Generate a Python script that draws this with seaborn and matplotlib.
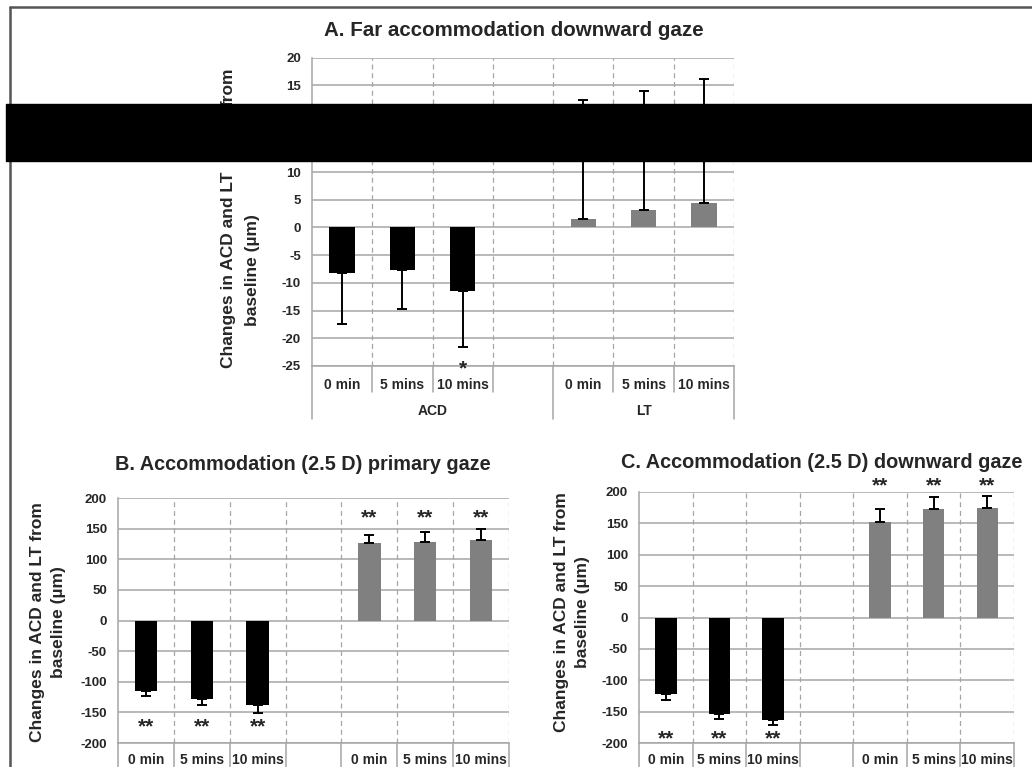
import numpy as np
import pandas as pd
import matplotlib
matplotlib.use("Agg")
import matplotlib.pyplot as plt
import matplotlib.transforms as mtransforms
from matplotlib.patches import Rectangle
from matplotlib.lines import Line2D
import seaborn as sns

sns.set_theme(style="white")
plt.rcParams['font.family'] = ['Liberation Sans', 'DejaVu Sans']
plt.rcParams['font.weight'] = 'bold'

# ---- data (changes from baseline, um) ----
times  = ["0 min", "5 mins", "10 mins"]
groups = ["ACD", "LT"]

a_acd    = [-8.3, -7.6, -11.5]
a_acd_sd = [9.2, 7.2, 10.0]
a_lt     = [1.6, 3.2, 4.5]
a_lt_sd  = [10.7, 10.7, 11.6]

b_acd    = [-115, -128, -138]
b_acd_sd = [9, 10, 13]
b_lt     = [126, 128, 131.5]
b_lt_sd  = [14, 16, 17.5]

c_acd    = [-122, -153, -164]
c_acd_sd = [10, 8, 8]
c_lt     = [152, 173, 175]
c_lt_sd  = [21, 18.5, 18]

a_sig = ["", "", "*", "", "", ""]
b_sig = ["**"] * 6
c_sig = ["**"] * 6

colors = {"ACD": "#000000", "LT": "#808080"}
GRID = "#a6a6a6"
W, H = 1032, 767

# category slots: ACD times, one empty slot, LT times
order = ["ACD|" + t for t in times] + ["ACD|"] + ["LT|" + t for t in times]


def make_df(acd, acd_sd, lt, lt_sd, sig):
    df = pd.DataFrame({"group": ["ACD"] * 3 + ["LT"] * 3,
                       "time": times * 2,
                       "value": acd + lt,
                       "sd": acd_sd + lt_sd,
                       "sig": sig})
    df["slot"] = df["group"] + "|" + df["time"]
    return df


def px_axes(l, t, r, b):
    return fig.add_axes([l / W, 1 - b / H, (r - l) / W, (b - t) / H])


def draw(ax, df, width, ylim, step):
    sns.barplot(data=df, x="slot", y="value", hue="group", order=order,
                hue_order=groups, palette=colors, dodge=False, width=width,
                errorbar=None, saturation=1, legend=False, linewidth=0, ax=ax)
    xpos = np.array([order.index(s) for s in df["slot"]])
    vals = df["value"].to_numpy()
    sd = df["sd"].to_numpy()
    lo = np.where(vals < 0, sd, 0)
    hi = np.where(vals > 0, sd, 0)
    ax.errorbar(xpos, vals, yerr=[lo, hi], fmt="none", ecolor="black",
                elinewidth=1.4, capsize=3.5, capthick=1.4, zorder=3)
    ax.set_xlim(-0.5, len(order) - 0.5)
    ax.set_ylim(*ylim)
    ticks = np.arange(-400, 401, step)
    ax.set_yticks(ticks[(ticks >= ylim[0] - 1e-9) & (ticks <= ylim[1] + 1e-9)])
    ax.set_yticklabels([f"{t:g}" for t in ax.get_yticks()], fontsize=9.5, fontweight="bold")
    ax.set_xticks([])
    ax.set_xticks(np.arange(0.5, len(order), 1), minor=True)
    ax.set_axisbelow(True)
    ax.yaxis.grid(True, color=GRID, lw=1.1)
    ax.xaxis.grid(True, which="minor", color=GRID, lw=0.9, ls=(0, (4, 3)))
    ax.tick_params(which="both", length=0, pad=8)
    ax.set_xlabel("")
    ax.set_ylabel("")
    for s in ["top", "right"]:
        ax.spines[s].set_visible(False)
    for s in ["left", "bottom"]:
        ax.spines[s].set_color(GRID)
        ax.spines[s].set_linewidth(1.1)


def categories(ax, ax_h, row_off, sep1, sep2=None, group_off=None):
    trans = mtransforms.blended_transform_factory(ax.transData, ax.transAxes)
    bounds = np.arange(-0.5, len(order), 1)
    for bnd in bounds:
        outer = bnd in (-0.5, 3.5, len(order) - 0.5)
        depth = sep2 if (outer and sep2 is not None) else sep1
        ax.add_line(Line2D([bnd, bnd], [0, -depth / ax_h], transform=trans,
                           color=GRID, lw=1.1, clip_on=False))
    for i, slot in enumerate(order):
        ax.text(i, -row_off / ax_h, slot.split("|")[1], transform=trans,
                ha="center", va="center", fontsize=10, fontweight="bold")
    if group_off is not None:
        ax.text(1.5, -group_off / ax_h, "ACD", transform=trans, ha="center",
                va="center", fontsize=10, fontweight="bold")
        ax.text(5.0, -group_off / ax_h, "LT", transform=trans, ha="center",
                va="center", fontsize=10, fontweight="bold")


def stars(ax, df, low, high, size=15):
    for _, r in df.iterrows():
        if r["sig"]:
            y = low if r["value"] < 0 else high
            ax.text(order.index(r["slot"]), y, r["sig"], ha="center",
                    va="center", fontsize=size, fontweight="bold")


fig = plt.figure(figsize=(W / 100, H / 100), dpi=100)

# ---- panel A (split by the black bar) ----
dfa = make_df(a_acd, a_acd_sd, a_lt, a_lt_sd, a_sig)
ax_at = px_axes(312, 58, 734, 104)
draw(ax_at, dfa, 0.42, (11.56, 20), 5)
ax_at.spines["bottom"].set_visible(False)
ax_ab = px_axes(312, 161, 734, 366)
draw(ax_ab, dfa, 0.42, (-25, 11.99), 5)
categories(ax_ab, 205, 19, 26, 53, 45)
stars(ax_ab, dfa, -25.5, 0, size=15)
fig.text(514 / W, 1 - 30 / H, "A. Far accommodation downward gaze",
         ha="center", va="center", fontsize=14.8, fontweight="bold")
fig.text(228 / W, 1 - 68 / H, "from", rotation=90, ha="center", va="top",
         fontsize=12.5, fontweight="bold")
fig.text(228 / W, 1 - 368 / H, "Changes in ACD and LT", rotation=90,
         ha="center", va="bottom", fontsize=12.5, fontweight="bold")
fig.text(252 / W, 1 - 270 / H, "baseline (µm)", rotation=90,
         ha="center", va="center", fontsize=12.5, fontweight="bold")

# ---- panel B ----
dfb = make_df(b_acd, b_acd_sd, b_lt, b_lt_sd, b_sig)
ax_b = px_axes(118, 498, 509, 743)
draw(ax_b, dfb, 0.40, (-200, 200), 50)
categories(ax_b, 245, 17, 40)
stars(ax_b, dfb, -173.5, 167)
fig.text(303 / W, 1 - 465 / H, "B. Accommodation (2.5 D) primary gaze",
         ha="center", va="center", fontsize=14.3, fontweight="bold")
fig.text(48 / W, 1 - 622 / H, "Changes in ACD and LT from\nbaseline (µm)",
         rotation=90, ha="center", va="center", fontsize=12.5,
         fontweight="bold", linespacing=1.55)

# ---- panel C ----
dfc = make_df(c_acd, c_acd_sd, c_lt, c_lt_sd, c_sig)
ax_c = px_axes(639, 492, 1014, 743)
draw(ax_c, dfc, 0.40, (-200, 200), 50)
categories(ax_c, 251, 17, 40)
stars(ax_c, dfc, -193, 209)
fig.text(822 / W, 1 - 463 / H, "C. Accommodation (2.5 D) downward gaze",
         ha="center", va="center", fontsize=14.3, fontweight="bold")
fig.text(572 / W, 1 - 612 / H, "Changes in ACD and LT from\nbaseline (µm)",
         rotation=90, ha="center", va="center", fontsize=12.5,
         fontweight="bold", linespacing=1.55)

# ---- page frame and redaction bar ----
fig.add_artist(Line2D([10 / W, 10 / W], [0, 1 - 7 / H], transform=fig.transFigure,
                      color="#555555", lw=1.8))
fig.add_artist(Line2D([10 / W, 1], [1 - 7 / H, 1 - 7 / H], transform=fig.transFigure,
                      color="#555555", lw=1.8))
fig.add_artist(Rectangle((6 / W, 1 - 161 / H), 1 - 6 / W, 57 / H,
                         transform=fig.transFigure, color="black", zorder=10))

fig.savefig("out.png", dpi=100)
